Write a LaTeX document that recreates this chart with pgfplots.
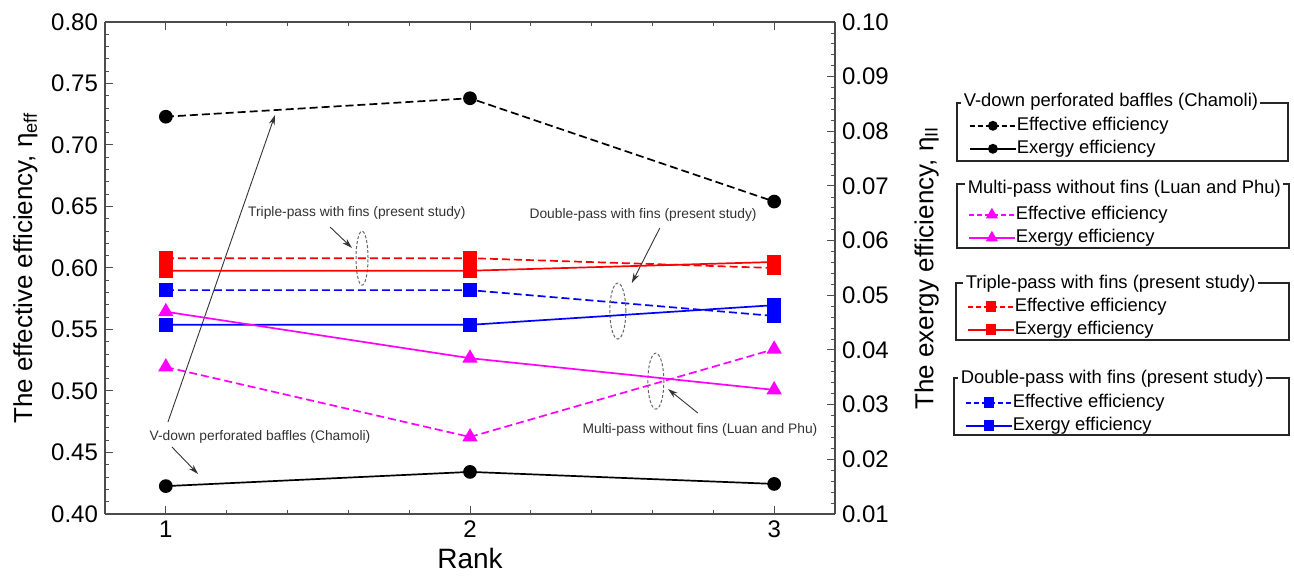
\documentclass[border=0pt]{standalone}
\usepackage{pgfplots}
\pgfplotsset{compat=1.18}
\usepackage{fontspec}
\setmainfont{Liberation Sans}
\usetikzlibrary{arrows.meta}
\definecolor{mag}{RGB}{255,0,255}
\definecolor{anntext}{RGB}{50,50,50}

\begin{document}
\begin{tikzpicture}[font=\fontsize{12}{14}\selectfont]
\useasboundingbox (-52.5pt,-31pt) rectangle (594.5pt,257pt);
\pgfplotsset{
  mydash/.style={dash pattern=on 4pt off 2pt},
  mainax/.style={scale only axis, width=365pt, height=246pt, at={(0pt,0pt)}, anchor=south west,
    xmin=0.8, xmax=3.2, tick align=inside, major tick length=4pt, minor tick length=2pt,
    /pgf/number format/assume math mode=true,
    tick label style={font=\fontsize{12}{14}\selectfont},
    axis line style={black!70, line width=0.6pt},
    every tick/.style={black!70, line width=0.5pt},
    every minor tick/.style={black!70, line width=0.4pt},
    clip=false},
  legax/.style={hide axis, scale only axis, width=1pt, height=1pt, xmin=0, xmax=1, ymin=0, ymax=1,
    anchor=north west,
    legend style={at={(0,1)}, anchor=north west, draw=none, fill=none, inner sep=0pt, outer sep=0pt,
      font=\fontsize{9.2}{11}\selectfont, row sep=0pt, column sep=0pt,
      nodes={inner sep=0pt, text height=6.8pt, text depth=2pt}},
    legend cell align=left,
    legend image code/.code={\draw[mark repeat=2,mark phase=2,#1] plot coordinates {(0pt,0pt) (11.5pt,0pt) (23pt,0pt)};}},
  legdash/.style={dash pattern=on 2.5pt off 1.5pt, line width=0.9pt, mark options={solid}},
  legsolid/.style={solid, line width=0.9pt},
}
% ---------- left axis: effective efficiency ----------
\begin{axis}[mainax,
  ymin=0.4, ymax=0.8,
  axis y line*=left,
  xtick={1,2,3}, minor x tick num=4,
  ytick={0.4,0.45,0.5,0.55,0.6,0.65,0.7,0.75,0.8}, minor y tick num=4,
  yticklabel style={/pgf/number format/.cd, fixed, fixed zerofill, precision=2},
  xlabel={Rank}, ylabel={The effective efficiency, η\textsubscript{eff}},
  xlabel style={font=\fontsize{14}{16}\selectfont, yshift=2pt},
  ylabel style={font=\fontsize{13}{15}\selectfont},
]
\addplot[black, mydash, line width=0.85pt, mark=*, mark size=3pt, mark options={solid}] coordinates {(1,0.723) (2,0.738) (3,0.654)};
\addplot[red, mydash, line width=0.85pt, mark=square*, mark size=3pt, mark options={solid}] coordinates {(1,0.608) (2,0.608) (3,0.600)};
\addplot[blue, mydash, line width=0.85pt, mark=square*, mark size=3pt, mark options={solid}] coordinates {(1,0.582) (2,0.582) (3,0.561)};
\addplot[mag, mydash, line width=0.85pt, mark=triangle*, mark size=3.6pt, mark options={solid}] coordinates {(1,0.5195) (2,0.4626) (3,0.534)};
% annotations
\begin{scope}[font=\fontsize{6.9}{8}\selectfont, text=anntext]
\node at (axis cs:1.628,0.6447) {Triple-pass with fins (present study)};
\node at (axis cs:2.569,0.6431) {Double-pass with fins (present study)};
\node at (axis cs:2.756,0.4683) {Multi-pass without fins (Luan and Phu)};
\node at (axis cs:1.3095,0.4626) {V-down perforated baffles (Chamoli)};
\end{scope}
\begin{scope}[gray!80!black, dash pattern=on 1.5pt off 1pt, line width=0.5pt]
\draw (axis cs:1.645,0.608) ellipse [x radius=3pt, y radius=13.5pt];
\draw (axis cs:2.486,0.565) ellipse [x radius=4pt, y radius=14pt];
\draw (axis cs:2.611,0.508) ellipse [x radius=4pt, y radius=14pt];
\end{scope}
\begin{scope}[black!80, line width=0.45pt, -{Stealth[length=5pt,width=3pt]}]
\draw (axis cs:1.540,0.6333) -- (axis cs:1.612,0.6163);
\draw (axis cs:2.624,0.6325) -- (axis cs:2.532,0.5878);
\draw (axis cs:2.749,0.4821) -- (axis cs:2.651,0.5016);
\draw (axis cs:1.007,0.4748) -- (axis cs:1.359,0.7244);
\draw (axis cs:1.020,0.4545) -- (axis cs:1.106,0.4325);
\end{scope}
\end{axis}
% ---------- right axis: exergy efficiency ----------
\begin{axis}[mainax,
  ymin=0.01, ymax=0.10,
  axis y line*=right, axis x line=none,
  ytick={0.01,0.02,0.03,0.04,0.05,0.06,0.07,0.08,0.09,0.10}, minor y tick num=4,
  yticklabel style={/pgf/number format/.cd, fixed, fixed zerofill, precision=2},
  ylabel={The exergy efficiency, η\textsubscript{II}},
  ylabel style={font=\fontsize{13}{15}\selectfont, yshift=-6pt},
]
\addplot[black, line width=0.85pt, mark=*, mark size=3pt] coordinates {(1,0.0151) (2,0.0177) (3,0.0155)};
\addplot[red, line width=0.85pt, mark=square*, mark size=3pt] coordinates {(1,0.0545) (2,0.0545) (3,0.0561)};
\addplot[blue, line width=0.85pt, mark=square*, mark size=3pt] coordinates {(1,0.0446) (2,0.0446) (3,0.0482)};
\addplot[mag, line width=0.85pt, mark=triangle*, mark size=3.6pt] coordinates {(1,0.0470) (2,0.0385) (3,0.0327)};
\end{axis}
% ---------- legend boxes ----------
\begin{scope}[line width=0.6pt, black!85]
\draw (426pt,176.5pt) rectangle (591.5pt,205.5pt);
\draw (426pt,133pt) rectangle (592pt,165pt);
\draw (425.5pt,87pt) rectangle (592pt,115.5pt);
\draw (424.5pt,39.5pt) rectangle (592pt,68pt);
\end{scope}
\begin{scope}[font=\fontsize{9.2}{11}\selectfont]
\node[fill=white, anchor=west, inner sep=1.2pt] at (428pt,206pt) {V-down perforated baffles (Chamoli)};
\node[fill=white, anchor=west, inner sep=1.2pt] at (430pt,162.5pt) {Multi-pass without fins (Luan and Phu)};
\node[fill=white, anchor=west, inner sep=1.2pt] at (429pt,115pt) {Triple-pass with fins (present study)};
\node[fill=white, anchor=west, inner sep=1.2pt] at (426.5pt,67.5pt) {Double-pass with fins (present study)};
\end{scope}
% one legend entry per hidden axis
\begin{axis}[legax, at={(432pt,198.5pt)}]
\addlegendimage{black, legdash, mark=*, mark size=2pt}
\addlegendentry{Effective efficiency}
\end{axis}
\begin{axis}[legax, at={(432pt,187pt)}]
\addlegendimage{black, legsolid, mark=*, mark size=2pt}
\addlegendentry{Exergy efficiency}
\end{axis}
\begin{axis}[legax, at={(431.5pt,154pt)}]
\addlegendimage{mag, legdash, mark=triangle*, mark size=2.6pt}
\addlegendentry{Effective efficiency}
\end{axis}
\begin{axis}[legax, at={(431.5pt,142.5pt)}]
\addlegendimage{mag, legsolid, mark=triangle*, mark size=2.6pt}
\addlegendentry{Exergy efficiency}
\end{axis}
\begin{axis}[legax, at={(431pt,108pt)}]
\addlegendimage{red, legdash, mark=square*, mark size=2.2pt}
\addlegendentry{Effective efficiency}
\end{axis}
\begin{axis}[legax, at={(431pt,96.5pt)}]
\addlegendimage{red, legsolid, mark=square*, mark size=2.2pt}
\addlegendentry{Exergy efficiency}
\end{axis}
\begin{axis}[legax, at={(430pt,60pt)}]
\addlegendimage{blue, legdash, mark=square*, mark size=2.2pt}
\addlegendentry{Effective efficiency}
\end{axis}
\begin{axis}[legax, at={(430pt,48.5pt)}]
\addlegendimage{blue, legsolid, mark=square*, mark size=2.2pt}
\addlegendentry{Exergy efficiency}
\end{axis}
\end{tikzpicture}
\end{document}
